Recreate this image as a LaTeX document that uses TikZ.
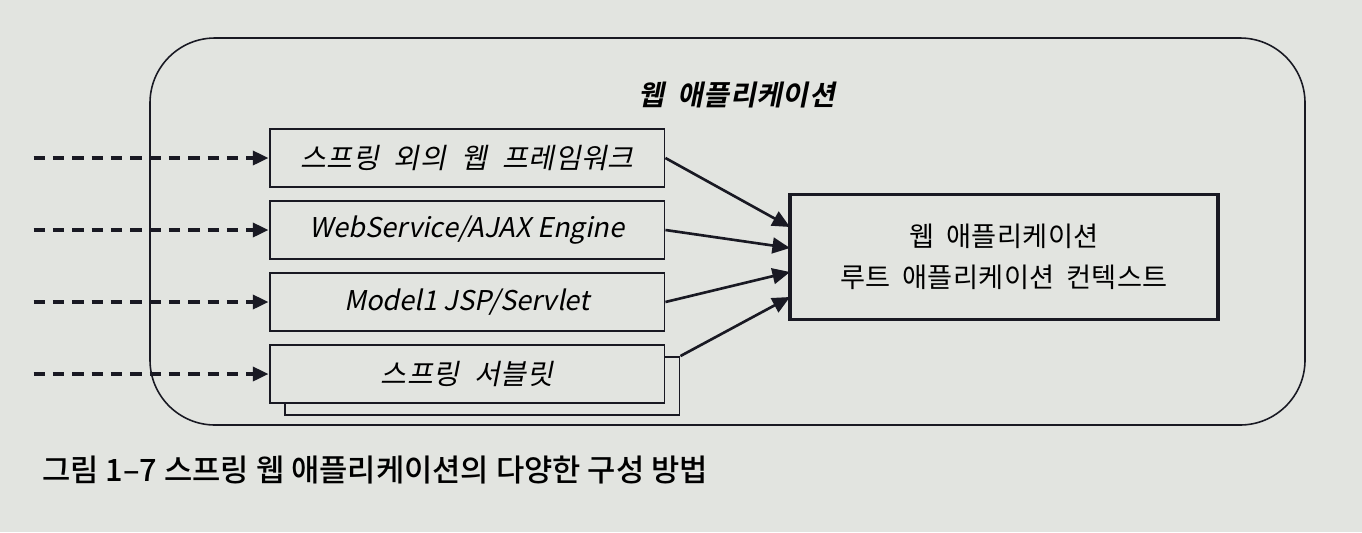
\documentclass[tikz,border=0pt]{standalone}
\usepackage{fontspec}
\setmainfont{Noto Sans CJK KR}
\newfontfamily\krit[FakeSlant=0.2, BoldFont={Noto Sans CJK KR Bold}, BoldFeatures={FakeSlant=0.2, WordSpace=1.8, LetterSpace=2}]{Noto Sans CJK KR}
\newfontfamily\kritwide[FakeSlant=0.2, WordSpace=2.2, LetterSpace=2]{Noto Sans CJK KR}
\newfontfamily\krwide[WordSpace=1.8, LetterSpace=1.5]{Noto Sans CJK KR}
\newfontfamily\krmed{Noto Sans CJK KR Medium}
\usetikzlibrary{arrows.meta, positioning}
\definecolor{paper}{RGB}{226,228,224}
\definecolor{ink}{RGB}{25,25,35}

\begin{document}
\begin{tikzpicture}[x=0.02cm, y=-0.02cm,
    frame/.style={draw=ink, fill=paper, line width=1.1pt, minimum width=7.9cm, minimum height=1.16cm,
        font=\krit\fontsize{15.5}{18}\selectfont},
    korean/.style={font=\kritwide\fontsize{16}{18}\selectfont},
    feed/.style={draw=ink, line width=2pt, dash pattern=on 6.5pt off 4.5pt,
        -{Triangle[length=9pt, width=8pt]}},
    link/.style={draw=ink, line width=1.5pt, -{Triangle[length=10pt, width=9pt]}}]
    \useasboundingbox[fill=paper] (0,0) rectangle (1362,532);

    % outer frame
    \draw[ink, line width=0.9pt, rounded corners=1.3cm] (150,38) rectangle (1305,425);
    \node[font=\krit\bfseries\fontsize{16}{18}\selectfont] (title) at (737,95) {웹 애플리케이션};

    % web layers
    \node[frame, korean] (fw) at (467,158) {스프링 외의 웹 프레임워크};
    \node[frame] (ws) at (467,230) {WebService/AJAX Engine};
    \node[frame] (jsp) at (467,302) {Model1 JSP/Servlet};
    \node[frame] (shadow) at (482,386) {};
    \node[frame, korean] (srv) at (467,374) {스프링 서블릿};

    % root context
    \node[draw=ink, fill=paper, line width=2pt, minimum width=8.56cm, minimum height=2.5cm,
        align=center, font=\krwide\fontsize{15.5}{23}\selectfont] (ctx) at (1004,257)
        {웹 애플리케이션\\루트 애플리케이션 컨텍스트};

    \coordinate (in1) at (790,227);
    \coordinate (in2) at (790,248);
    \coordinate (in3) at (790,272);
    \coordinate (in4) at (790,297);

    \draw[link] (fw.east) -- (in1);
    \draw[link] (ws.east) -- (in2);
    \draw[link] (jsp.east) -- (in3);
    \draw[link] (shadow.north east) -- (in4);

    % requests
    \foreach \b in {fw, ws, jsp, srv}
        \draw[feed] ([xshift=-4.7cm]\b.west) -- (\b.west);

    \node[anchor=west, font=\krmed\fontsize{17.5}{20}\selectfont] (caption) at (36,470)
        {그림 1–7 스프링 웹 애플리케이션의 다양한 구성 방법};
\end{tikzpicture}
\end{document}
